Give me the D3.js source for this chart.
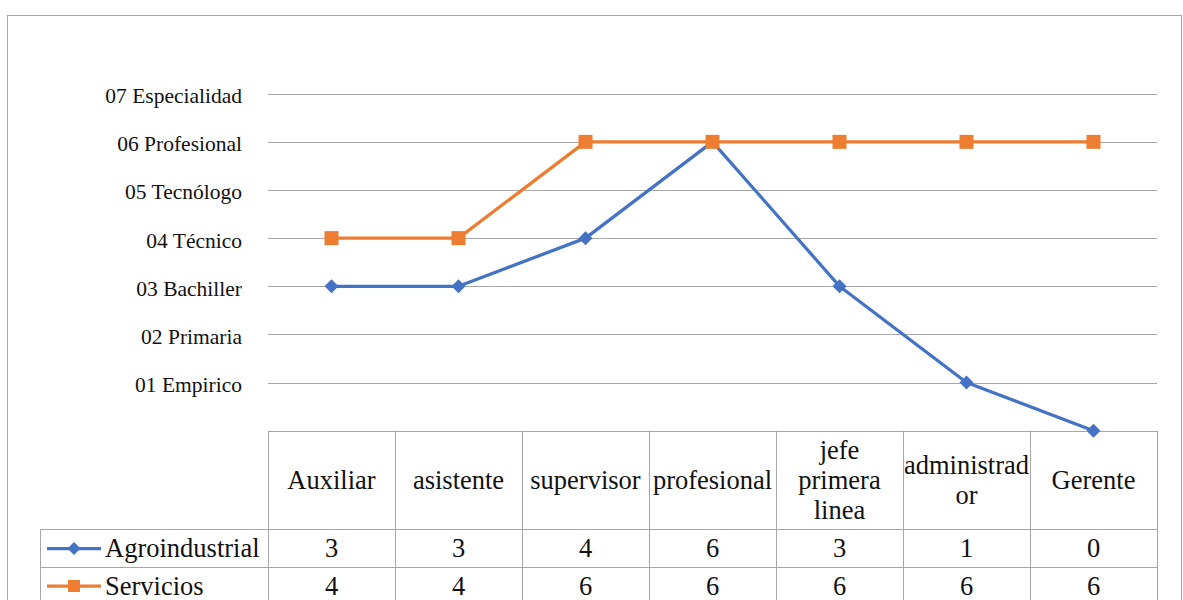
<!DOCTYPE html>
<html>
<head>
<meta charset="utf-8">
<script src="https://cdn.jsdelivr.net/npm/d3@7"></script>
<style>
  html, body { margin: 0; padding: 0; background: #fff; }
  svg { display: block; }
  svg text { font-family: "Liberation Serif", "Times New Roman", serif; }
</style>
</head>
<body>
<svg id="chart" width="1183" height="600"></svg>
<script>
// ---- data ----
const categories = ["Auxiliar", "asistente", "supervisor", "profesional", "jefe primera linea", "administrador", "Gerente"];
const categoryLines = [["Auxiliar"], ["asistente"], ["supervisor"], ["profesional"], ["jefe", "primera", "linea"], ["administrad", "or"], ["Gerente"]];
const seriesNames = ["Agroindustrial", "Servicios"];
const agroindustrial = [3, 3, 4, 6, 3, 1, 0];
const servicios = [4, 4, 6, 6, 6, 6, 6];
const levelValues = [1, 2, 3, 4, 5, 6, 7];
const levelLabels = ["01 Empirico", "02 Primaria", "03 Bachiller", "04 Técnico", "05 Tecnólogo", "06 Profesional", "07 Especialidad"];
const seriesColors = ["#4472C4", "#ED7D31"];

// ---- layout ----
const FONT = '"Liberation Serif", "Times New Roman", serif';
const svg = d3.select("#chart");
const plotLeft = 268, plotRight = 1157, plotTop = 93.7, plotBottom = 430.7;
const gridColor = "#a6a6a6";
const tableFont = 26.5;

const x = d3.scaleBand().domain(categories).range([plotLeft, plotRight]).padding(0);
const y = d3.scaleLinear().domain([0, 7]).range([plotBottom, plotTop]);

// outer frame
svg.append("rect").attr("x", 7.5).attr("y", 15.5).attr("width", 1174).attr("height", 620)
  .attr("fill", "none").attr("stroke", gridColor).attr("stroke-width", 1);

// gridlines
svg.append("g").selectAll("line").data(levelValues).join("line")
  .attr("x1", plotLeft).attr("x2", plotRight)
  .attr("y1", d => Math.round(y(d)) + 0.5).attr("y2", d => Math.round(y(d)) + 0.5)
  .attr("stroke", gridColor).attr("stroke-width", 1);

// y axis labels
svg.append("g").selectAll("text").data(levelValues).join("text")
  .attr("x", 242).attr("y", d => y(d) + 9.5)
  .attr("text-anchor", "end").attr("font-size", 21.5).attr("fill", "#111")
  .style("font-family", FONT)
  .text((d, i) => levelLabels[i]);

// ---- table ----
const headerTop = plotBottom, headerBottom = 529.5, row1Bottom = 567.5, row2Bottom = 606;
const legendLeft = 40.5;
const tbl = svg.append("g").attr("stroke", gridColor).attr("stroke-width", 1).attr("fill", "none");
tbl.append("line").attr("x1", plotLeft).attr("x2", plotRight).attr("y1", Math.round(headerTop) + 0.5).attr("y2", Math.round(headerTop) + 0.5);
[headerBottom, row1Bottom, row2Bottom].forEach(yy => {
  tbl.append("line").attr("x1", legendLeft).attr("x2", plotRight).attr("y1", yy).attr("y2", yy);
});
const colEdges = categories.map(c => x(c)).concat([plotRight]);
colEdges.forEach(xx => {
  tbl.append("line").attr("x1", Math.round(xx) + 0.5).attr("x2", Math.round(xx) + 0.5)
    .attr("y1", headerTop).attr("y2", row2Bottom);
});
tbl.append("line").attr("x1", legendLeft).attr("x2", legendLeft).attr("y1", headerBottom).attr("y2", row2Bottom);

// header text
const headerMid = (headerTop + headerBottom) / 2;
const lineH = 30;
categories.forEach((c, i) => {
  const lines = categoryLines[i];
  const cx = x(c) + x.bandwidth() / 2;
  const startY = headerMid + 8.5 - (lines.length - 1) * lineH / 2;
  const t = svg.append("text").attr("text-anchor", "middle").attr("font-size", tableFont).attr("fill", "#111")
    .style("font-family", FONT);
  lines.forEach((l, k) => {
    t.append("tspan").attr("x", cx).attr("y", startY + k * lineH).text(l);
  });
});

// value rows
const seriesData = [agroindustrial, servicios];
const rowMids = [(headerBottom + row1Bottom) / 2, 586];
seriesData.forEach((vals, s) => {
  svg.append("g").selectAll("text").data(vals).join("text")
    .attr("x", (d, i) => x(categories[i]) + x.bandwidth() / 2)
    .attr("y", rowMids[s] + 8.5)
    .attr("text-anchor", "middle").attr("font-size", tableFont).attr("fill", "#111")
    .style("font-family", FONT)
    .text(d => d);
});

// legend keys in table
function diamondPath(cx, cy, r) {
  return `M${cx},${cy - r}L${cx + r},${cy}L${cx},${cy + r}L${cx - r},${cy}Z`;
}
seriesNames.forEach((name, s) => {
  const cy = rowMids[s];
  svg.append("line").attr("x1", 47).attr("x2", 101).attr("y1", cy).attr("y2", cy)
    .attr("stroke", seriesColors[s]).attr("stroke-width", 3.25);
  if (s === 0) {
    svg.append("path").attr("d", diamondPath(74, cy, 6.5)).attr("fill", seriesColors[s]);
  } else {
    svg.append("rect").attr("x", 74 - 6).attr("y", cy - 6).attr("width", 12).attr("height", 12).attr("fill", seriesColors[s]);
  }
  svg.append("text").attr("x", 105).attr("y", cy + 8.5).attr("font-size", tableFont).attr("fill", "#111")
    .style("font-family", FONT).text(name);
});

// ---- lines ----
const cxOf = i => x(categories[i]) + x.bandwidth() / 2;
const line = d3.line().x((d, i) => cxOf(i)).y(d => y(d));
seriesData.forEach((vals, s) => {
  svg.append("path").datum(vals).attr("d", line).attr("fill", "none")
    .attr("stroke", seriesColors[s]).attr("stroke-width", 3.25).attr("stroke-linejoin", "round");
});
// markers
svg.append("g").selectAll("path").data(agroindustrial).join("path")
  .attr("d", (d, i) => diamondPath(cxOf(i), y(d), 7)).attr("fill", seriesColors[0]);
svg.append("g").selectAll("rect").data(servicios).join("rect")
  .attr("x", (d, i) => cxOf(i) - 7).attr("y", d => y(d) - 7)
  .attr("width", 14).attr("height", 14).attr("fill", seriesColors[1]);
</script>
</body>
</html>
